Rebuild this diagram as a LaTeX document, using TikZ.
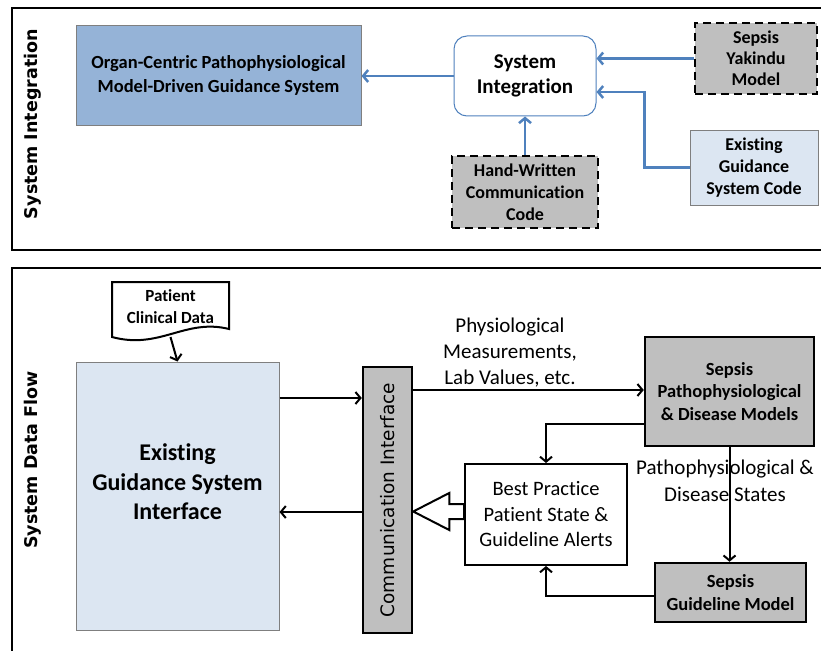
\documentclass[tikz,border=0pt]{standalone}
\usepackage{fontspec}
\setmainfont{Carlito}[Ligatures=NoCommon,RawFeature={-liga;-clig;-dlig}]
\newfontfamily\sidefont{DejaVu Sans}
\usetikzlibrary{arrows.meta,calc}
\definecolor{boxgray}{HTML}{BFBFBF}
\definecolor{paleblue}{HTML}{DCE6F2}
\definecolor{midblue}{HTML}{95B3D7}
\definecolor{linkblue}{HTML}{4F81BD}
\definecolor{edgegray}{HTML}{7F7F7F}
\tikzset{
  every node/.style={inner sep=0pt,align=center},
  panel/.style={draw=black,line width=1.5pt},
  sidelabel/.style={rotate=90,font=\sidefont\bfseries\fontsize{17.5}{20}\selectfont},
  boldtext/.style={font=\bfseries\fontsize{18.5}{22.5}\selectfont},
  dashbox/.style={draw=black,fill=boxgray,line width=2.5pt,dash pattern=on 8pt off 5pt,boldtext},
  graybox/.style={draw=black,fill=boxgray,line width=2.5pt,boldtext},
  bluelink/.style={draw=linkblue,line width=2.5pt,-{Straight Barb[length=5pt,width=12pt,line width=2.5pt]}},
  blacklink/.style={draw=black,line width=2pt,-{Straight Barb[length=5pt,width=12pt,line width=2pt]}},
}
\begin{document}
\begin{tikzpicture}[x=1pt,y=-1pt]
\useasboundingbox (0,0) rectangle (821,650);
\fill[white] (0,0) rectangle (821,650);

% ---------- upper panel: system integration ----------
\draw[panel] (12,8) rectangle (840,250);
\node[sidelabel] (lblint) at (33,124) {System Integration};

\node[draw=edgegray,line width=1pt,fill=midblue,minimum width=285pt,minimum height=99pt,
      font=\bfseries\fontsize{18.5}{24}\selectfont] (organ) at (218.5,75.5)
      {Organ-Centric Pathophysiological\\Model-Driven Guidance System};
\node[draw=linkblue,line width=1pt,fill=white,rounded corners=13pt,minimum width=142pt,minimum height=80pt,
      font=\bfseries\fontsize{21}{25}\selectfont] (sysint) at (525,76) {System\\Integration};
\node[dashbox,minimum width=122pt,minimum height=71pt,font=\bfseries\fontsize{18}{21}\selectfont] (yakindu) at (756,58.5)
      {Sepsis\\Yakindu\\Model};
\node[draw=edgegray,line width=1pt,fill=paleblue,minimum width=128pt,minimum height=75pt,
      font=\bfseries\fontsize{18}{22}\selectfont] (excode) at (754,167.5)
      {Existing\\Guidance\\System Code};
\node[dashbox,minimum width=146pt,minimum height=72pt,font=\bfseries\fontsize{18}{22}\selectfont] (handw) at (525,192)
      {Hand-Written\\Communication\\Code};

\draw[bluelink] (sysint.west) -- (sysint.west -| organ.east);
\draw[bluelink] (yakindu.west) -- (yakindu.west -| sysint.east);
\draw[bluelink] (excode.west) -- ++(-45,0) |- ($(sysint.east)+(0,16)$);
\draw[bluelink] (handw.north) -- (sysint.south);

% ---------- lower panel: system data flow ----------
\draw[panel] (12,268) rectangle (840,670);
\node[sidelabel] (lblflow) at (33,460) {System Data Flow};

% patient data document shape
\draw[black,line width=2pt,fill=white] (112,282) -- (229,282) -- (229,329)
   .. controls (185,318) and (160,350) .. (112,337) -- cycle;
\node[font=\bfseries\fontsize{17}{22}\selectfont] (patient) at (170.5,307) {Patient\\Clinical Data};
\coordinate (docbot) at (170.5,337);

\node[draw=edgegray,line width=1pt,fill=paleblue,minimum width=203pt,minimum height=268pt] (egsi) at (177.5,496) {};
\node[font=\bfseries\fontsize{24}{29.5}\selectfont] (egsitext) at ($(egsi.center)+(0,-14)$)
      {Existing\\Guidance System\\Interface};
\node[draw=black,line width=2.5pt,fill=boxgray,minimum width=49pt,minimum height=266pt] (ci) at (387.5,500) {};
\node[rotate=90,font=\sidefont\fontsize{18.5}{20}\selectfont] (citext) at (ci.center) {Communication Interface};

\node[graybox,minimum width=169pt,minimum height=109pt] (patho) at (729.5,391.5)
      {Sepsis\\Pathophysiological\\\& Disease Models};
\node[graybox,minimum width=151pt,minimum height=59pt] (guide) at (730.5,592.5)
      {Sepsis\\Guideline Model};

\draw[blacklink] (docbot) -- (egsi.north);
\draw[blacklink] ($(egsi.east)+(0,-98)$) coordinate (a1) -- (a1 -| ci.west);
\draw[blacklink] ($(ci.west)+(0,12)$) coordinate (a2) -- (a2 -| egsi.east);
\draw[blacklink] ($(ci.east)+(0,-110)$) coordinate (a3) -- (a3 -| patho.west);
\node[font=\fontsize{21}{26}\selectfont] (physio) at (510,353)
      {Physiological\\Measurements,\\Lab Values, etc.};

\node[font=\fontsize{21}{27}\selectfont] (states) at (725,481)
      {Pathophysiological \&\\Disease States};

% hollow block arrow from the alerts box to the interface bar
\coordinate (ba) at (546,511.5);
\coordinate (tip) at (ci.east |- ba);
\draw[black,line width=2pt,fill=white,line join=miter]
  (tip) -- ++(36,-18.5) -- ++(0,11) -- ($(ba)+(-82,-7.5)$) -- ($(ba)+(-82,7.5)$)
  -- ($(tip)+(36,7.5)$) -- ($(tip)+(36,18.5)$) -- cycle;

\node[draw=black,line width=2pt,fill=white,minimum width=162pt,minimum height=101pt,
      font=\fontsize{20.5}{25.5}\selectfont] (bp) at (546,514.5)
      {Best Practice\\Patient State \&\\Guideline Alerts};

\draw[blacklink] ($(patho.west)+(0,32.5)$) -| (bp.north);
\draw[blacklink] (patho.south) -- (patho.south |- guide.north);
\draw[blacklink] ($(guide.west)+(0,3.5)$) -| (bp.south);
\end{tikzpicture}
\end{document}
